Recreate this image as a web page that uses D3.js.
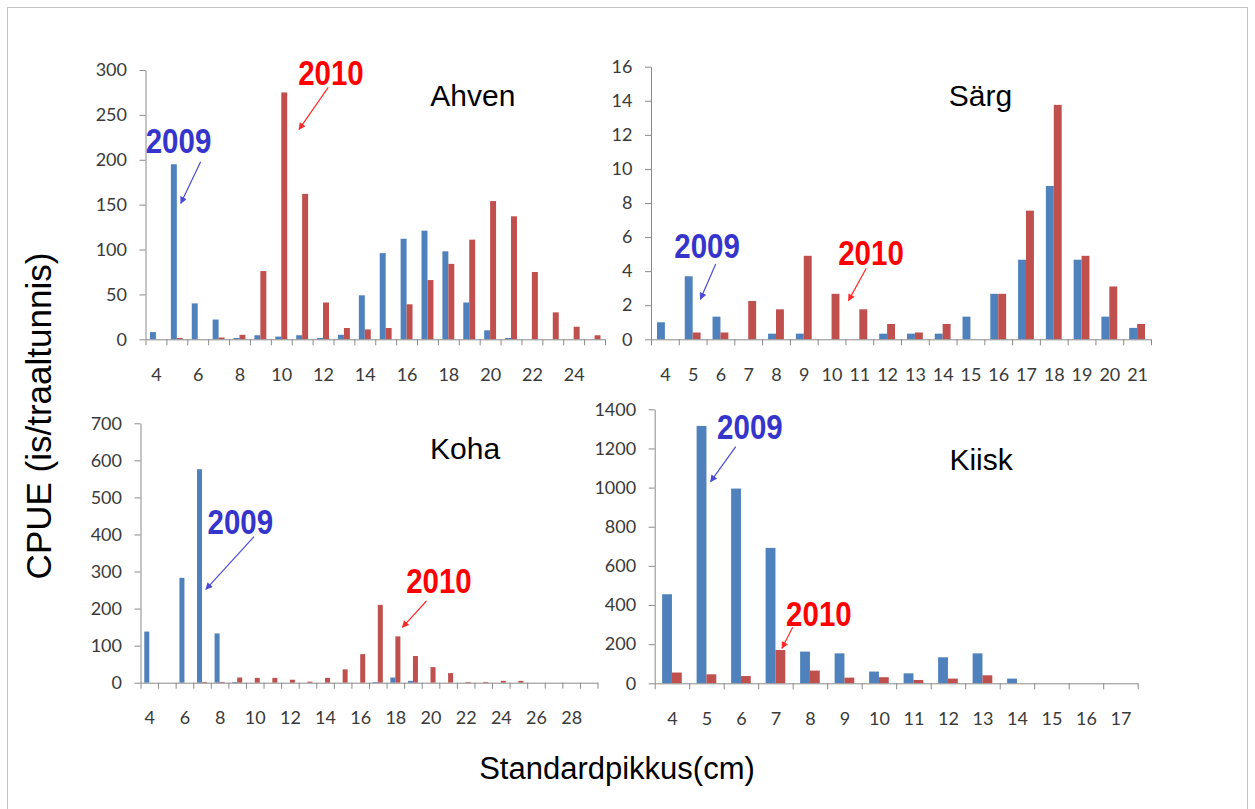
<!DOCTYPE html>
<html><head><meta charset="utf-8">
<script src="https://cdn.jsdelivr.net/npm/d3@7"></script>
<style>body{margin:0;background:#fff;} svg{display:block}</style>
</head><body><svg id="c" width="1255" height="809"></svg>
<script>
// ---------- DATA ----------
const ahvenLengths = [4,5,6,7,8,9,10,11,12,13,14,15,16,17,18,19,20,21,22,23,24,25];
const ahven2009 = [8,195,40,22,1.5,4.5,3,4.5,1.5,5,49,96,112,121,98,41,10,1.5,0,0,0,0];
const ahven2010 = [0,1.5,0,2,5,76,275,162,41,12.6,11,12.6,39,66,84,111,154,137,75,30,14,4.5];
const ahvenYTicks = [0,50,100,150,200,250,300];
const ahvenXLabels = [4,6,8,10,12,14,16,18,20,22,24];

const sargLengths = [4,5,6,7,8,9,10,11,12,13,14,15,16,17,18,19,20,21];
const sarg2009 = [1.0,3.7,1.33,0,0.33,0.33,0,0,0.33,0.33,0.33,1.33,2.67,4.67,9.0,4.67,1.33,0.67];
const sarg2010 = [0,0.4,0.4,2.25,1.76,4.9,2.67,1.76,0.9,0.4,0.9,0,2.67,7.55,13.76,4.9,3.1,0.9];
const sargYTicks = [0,2,4,6,8,10,12,14,16];
const sargXLabels = [4,5,6,7,8,9,10,11,12,13,14,15,16,17,18,19,20,21];

const kohaLengths = [4,5,6,7,8,9,10,11,12,13,14,15,16,17,18,19,20,21,22,23,24,25,26,27,28,29];
const koha2009 = [138,0,283,576,133,2,0,0,0,0,0,0,0,2,14,5,0,0,0,0,0,0,0,0,0,0];
const koha2010 = [0,0,0,2,2,14,13,13,8,3,13,36,77,210,125,72,42,26,2,2,5,5,0,0,0,0];
const kohaYTicks = [0,100,200,300,400,500,600,700];
const kohaXLabels = [4,6,8,10,12,14,16,18,20,22,24,26,28];

const kiiskLengths = [4,5,6,7,8,9,10,11,12,13,14,15,16,17];
const kiisk2009 = [455,1315,995,692,162,153,60,51,133,153,24,0,0,0];
const kiisk2010 = [55,46,37,170,65,29,31,17,24,41,0,0,0,0];
const kiiskYTicks = [0,200,400,600,800,1000,1200,1400];
const kiiskXLabels = [4,5,6,7,8,9,10,11,12,13,14,15,16,17];

const seriesNames = ["2009","2010"];
const species = ["Ahven","Särg","Koha","Kiisk"];
const yTitle = "CPUE (is/traaltunnis)";
const xTitle = "Standardpikkus(cm)";

// ---------- LAYOUT ----------
const panels = [
  {name:species[0], cats:ahvenLengths, a:ahven2009, b:ahven2010, yTicks:ahvenYTicks, xLabels:ahvenXLabels,
   L:{left:145.5,right:605,top:70,bottom:339.3},
   title:[19.17,272],
   notes:[{t:"2009",tx:5.08,ty:222,x1:6.14,y1:197.8,x2:5.19,y2:151.5},
          {t:"2010",tx:12.38,ty:297,x1:12.25,y1:280.7,x2:10.85,y2:233.9}]},
  {name:species[1], cats:sargLengths, a:sarg2009, b:sarg2010, yTicks:sargYTicks, xLabels:sargXLabels,
   L:{left:651,right:1151,top:66.7,bottom:339.3},
   title:[15.36,14.34],
   notes:[{t:"2009",tx:5.52,ty:5.53,x1:5.83,y1:4.42,x2:5.28,y2:2.35},
          {t:"2010",tx:11.42,ty:5.12,x1:11.25,y1:4.17,x2:10.61,y2:2.27}]},
  {name:species[2], cats:kohaLengths, a:koha2009, b:koha2010, yTicks:kohaYTicks, xLabels:kohaXLabels,
   L:{left:140.5,right:597.5,top:423.3,bottom:682.7},
   title:[21.97,633],
   notes:[{t:"2009",tx:9.18,ty:436,x1:9.96,y1:394,x2:7.22,y2:252},
          {t:"2010",tx:20.48,ty:277,x1:19.77,y1:220.5,x2:18.4,y2:149.5}]},
  {name:species[3], cats:kiiskLengths, a:kiisk2009, b:kiisk2010, yTicks:kiiskYTicks, xLabels:kiiskXLabels,
   L:{left:654.7,right:1137.7,top:409.3,bottom:683.3},
   title:[12.96,1145],
   notes:[{t:"2009",tx:6.26,ty:1311,x1:5.85,y1:1209,x2:5.12,y2:1030},
          {t:"2010",tx:8.26,ty:355,x1:7.5,y1:286,x2:7.19,y2:178.8}]}
];

const colors = {"2009":"#4F81BD","2010":"#C0504D"};
const noteColors = {"2009":"#3535CC","2010":"#FF0000"};
const arrowColors = {"2009":"#4B4BD8","2010":"#FF2A2A"};
const tickFont = "Lato, 'Open Sans', sans-serif";
const mainFont = "'Liberation Sans', Arial, sans-serif";

const svg = d3.select("#c");
svg.append("rect").attr("x",0).attr("y",0).attr("width",1255).attr("height",809).attr("fill","#fff");
svg.append("rect").attr("x",7.5).attr("y",7.5).attr("width",1240).attr("height",830)
   .attr("fill","none").attr("stroke","#c4c4c4").attr("stroke-width",1);

const defs = svg.append("defs");
seriesNames.forEach(s=>{
  defs.append("marker").attr("id","ah"+s).attr("viewBox","0 0 10 10").attr("refX",9).attr("refY",5)
    .attr("markerWidth",9).attr("markerHeight",7).attr("markerUnits","userSpaceOnUse").attr("orient","auto")
    .append("path").attr("d","M0,0 L10,5 L0,10 Z").attr("fill",arrowColors[s]);
});

panels.forEach(p=>{
  const L = p.L;
  const g = svg.append("g");
  const n = p.cats.length;
  const x = d3.scaleBand().domain(p.cats).range([L.left,L.right]).paddingInner(0.43).paddingOuter(0.215);
  const xs = d3.scaleBand().domain(seriesNames).range([0,x.bandwidth()]);
  const xl = d3.scaleLinear().domain([p.cats[0]-0.5, p.cats[n-1]+0.5]).range([L.left,L.right]);
  const y = d3.scaleLinear().domain([0,p.yTicks[p.yTicks.length-1]]).range([L.bottom,L.top]);

  const rows = p.cats.map((c,i)=>({c, vals:[{s:"2009",v:p.a[i]},{s:"2010",v:p.b[i]}]}));
  const grp = g.selectAll("g.cat").data(rows).join("g").attr("transform",d=>`translate(${x(d.c)},0)`);
  grp.selectAll("rect").data(d=>d.vals).join("rect")
    .attr("x",d=>xs(d.s)).attr("width",xs.bandwidth())
    .attr("y",d=>y(d.v)).attr("height",d=>y(0)-y(d.v))
    .attr("fill",d=>colors[d.s]);

  // y axis
  const ya = g.append("g").attr("transform",`translate(${L.left},0)`)
    .call(d3.axisLeft(y).tickValues(p.yTicks).tickSize(6).tickSizeOuter(0).tickPadding(12.5).tickFormat(d3.format("d")));
  // x axis tick marks at category boundaries
  const bounds = p.cats.map(c=>c-0.5).concat([p.cats[n-1]+0.5]);
  const xa = g.append("g").attr("transform",`translate(0,${L.bottom})`)
    .call(d3.axisBottom(xl).tickValues(bounds).tickSize(6).tickSizeOuter(0).tickFormat(""));
  const xt = g.append("g").attr("transform",`translate(0,${L.bottom})`)
    .call(d3.axisBottom(xl).tickValues(p.xLabels).tickSize(0).tickPadding(29).tickFormat(d3.format("d")));
  xt.select(".domain").remove();
  [ya,xa].forEach(a=>{a.select(".domain").attr("stroke","#8a8a8a"); a.selectAll(".tick line").attr("stroke","#8a8a8a");});
  [ya,xt].forEach(a=>a.selectAll("text").attr("font-family",tickFont).attr("font-size",18).attr("fill","#3a3a3a"));

  // title
  g.append("text").attr("x",xl(p.title[0])).attr("y",y(p.title[1])).attr("dy","0.36em")
    .attr("text-anchor","middle").attr("font-family",mainFont).attr("font-size",30).attr("fill","#000")
    .text(p.name);

  // annotations
  p.notes.forEach(nt=>{
    g.append("line").attr("x1",xl(nt.x1)).attr("y1",y(nt.y1)).attr("x2",xl(nt.x2)).attr("y2",y(nt.y2))
      .attr("stroke",arrowColors[nt.t]).attr("stroke-width",1.2).attr("marker-end",`url(#ah${nt.t})`);
    g.append("text").attr("transform",`translate(${xl(nt.tx)},${y(nt.ty)}) scale(1,1.18)`)
      .attr("dy","0.36em").attr("text-anchor","middle")
      .attr("font-family",mainFont).attr("font-weight","bold").attr("font-size",29.5)
      .attr("fill",noteColors[nt.t]).text(nt.t);
  });
});

// axis titles
svg.append("text").attr("transform","translate(38,416) rotate(-90)").attr("dy","0.36em")
  .attr("text-anchor","middle").attr("font-family",mainFont).attr("font-size",35).attr("fill","#000").text(yTitle);
svg.append("text").attr("x",617).attr("y",779).attr("text-anchor","middle")
  .attr("font-family",mainFont).attr("font-size",31).attr("fill","#000").text(xTitle);
</script></body></html>
